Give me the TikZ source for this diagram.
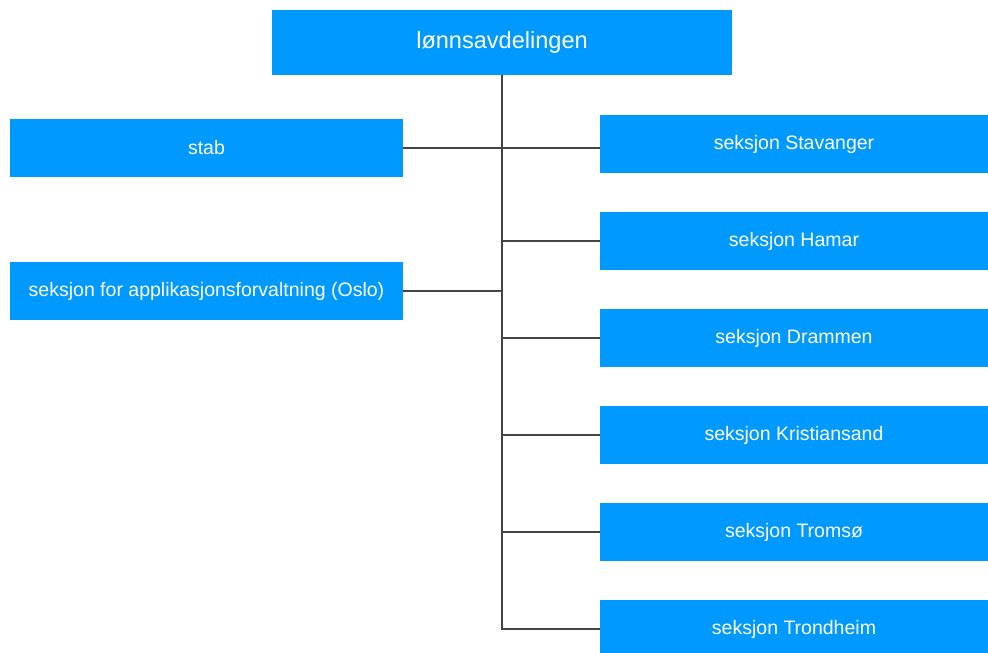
\documentclass[tikz,border=0pt]{standalone}
\usepackage{fontspec}
\setmainfont{Liberation Sans}
\usetikzlibrary{positioning}
\definecolor{boxblue}{HTML}{0099FF}
\definecolor{linegray}{HTML}{444444}
\tikzstyle{unit}=[rectangle, minimum height=1.17cm, inner sep=0, text centered, fill=boxblue, text=white, font=\fontsize{11.1}{13}\selectfont]
\tikzstyle{link}=[draw=linegray, line width=0.8pt]

\begin{document}
\begin{tikzpicture}[x=0.02cm,y=-0.02cm]
\useasboundingbox (0,0) rectangle (988,653);
\clip (0,0) rectangle (988,653);

\node[unit, minimum width=9.2cm, minimum height=1.3cm, font=\fontsize{13.4}{15}\selectfont] (top) at (502,42.5) {lønnsavdelingen};

\node[unit, minimum width=7.86cm] (stab) at (206.5,148) {stab};
\node[unit, minimum width=7.86cm] (oslo) at (206.5,291) {seksjon for applikasjonsforvaltning (Oslo)};

\foreach \n/\txt [count=\i] in {stavanger/Stavanger, hamar/Hamar, drammen/Drammen, kristiansand/Kristiansand, tromso/Tromsø, trondheim/Trondheim}{
	\node[unit, minimum width=7.76cm] (\n) at (794,144+97*\i-97) {seksjon \txt};
}

% trunk
\draw[link] (top.south) |- (trondheim.west);
\draw[link] (stab.east) -- (stab.east -| stavanger.west);
\draw[link] (oslo.east) -- (oslo.east -| top.south);
\foreach \n in {hamar,drammen,kristiansand,tromso}{
	\draw[link] (\n.west) -- (\n.west -| top.south);
}

\end{tikzpicture}
\end{document}
